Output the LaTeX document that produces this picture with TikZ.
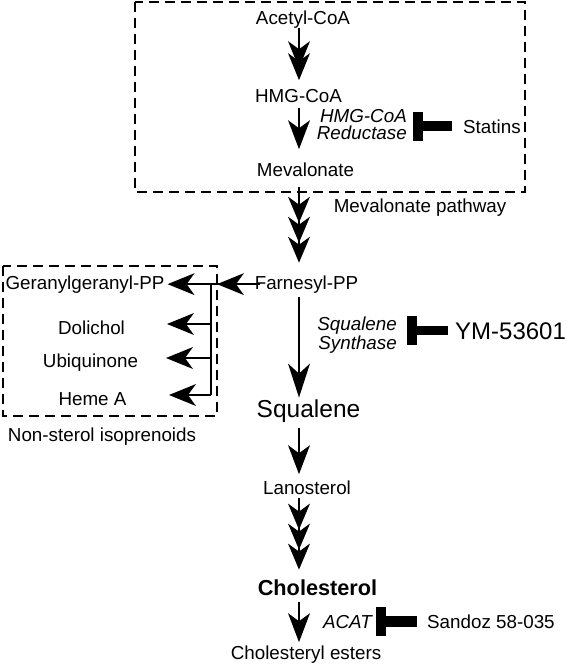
\documentclass[tikz,border=0pt]{standalone}
\usepackage{fontspec}
\setmainfont{Liberation Sans}
\usetikzlibrary{arrows.meta}
\tikzset{
  HeadA/.tip={Stealth[length=27pt,width=22pt,inset=8pt,line width=0pt]},
  HeadB/.tip={Stealth[length=29pt,width=22pt,inset=8pt,line width=0pt]},
  HeadC/.tip={Stealth[length=26pt,width=22pt,inset=8pt,line width=0pt]},
  HeadL/.tip={Stealth[length=34pt,width=22pt,inset=10pt,line width=0pt]},
  BarTip/.tip={Rectangle[length=10pt,width=29pt,line width=0pt]},
}
\begin{document}
\begin{tikzpicture}[x=1pt,y=-1pt,
  lbl/.style={inner sep=0pt,anchor=base,font=\fontsize{18.8}{22}\selectfont},
  biglbl/.style={lbl,font=\fontsize{24.5}{28}\selectfont},
  boldlbl/.style={lbl,font=\fontsize{21.7}{26}\selectfont\bfseries},
  enzlbl/.style={inner ysep=0pt,align=right},
  druglbl/.style={inner ysep=0pt,anchor=base west,font=\fontsize{18.8}{22}\selectfont},
  grp/.style={line width=1.4pt,dash pattern=on 10pt off 6pt},
  flow/.style={line width=2pt},
  one/.style={flow,-{HeadB}},
  brarr/.style={flow,-{HeadA}},
  longone/.style={flow,-{HeadL}},
  two/.style={flow,-{HeadA[sep=-15pt]HeadA}},
  three/.style={flow,-{HeadC[sep=-6pt]HeadC[sep=-6pt]HeadC}},
  inh/.style={line width=10pt,-{BarTip}},
]
\useasboundingbox (0,0) rectangle (566,664);

% group boxes
\draw[grp] (135,2) rectangle (525,192);
\draw[grp] (3,266) rectangle (217,416);

% axis
\coordinate (ax) at (299,0);

% main pathway
\node[lbl] (acetyl) at (303,24) {Acetyl-CoA};
\node[lbl] (hmg) at (298.5,102) {HMG-CoA};
\node[lbl] (mev) at (305.5,176) {Mevalonate};
\node[lbl] (mevpath) at (420,212) {Mevalonate pathway};
\node[lbl] (fpp) at (306.5,289) {Farnesyl-PP};
\node[biglbl] (squal) at (308.5,417) {Squalene};
\node[lbl] (lan) at (307,494) {Lanosterol};
\node[boldlbl] (chol) at (317.5,595) {Cholesterol};
\node[lbl] (est) at (306,659) {Cholesteryl esters};

% non-sterol isoprenoids
\node[lbl] (gg) at (85,289) {Geranylgeranyl-PP};
\node[lbl] (dol) at (91.5,334) {Dolichol};
\node[lbl] (ubi) at (90.5,367) {Ubiquinone};
\node[lbl] (heme) at (92.5,405) {Heme A};
\node[lbl] (nonsterol) at (102,441) {Non-sterol isoprenoids};

% enzymes and inhibitors
\node[enzlbl,anchor=east,inner xsep=6pt,font=\fontsize{18.8}{17}\selectfont\itshape] (hmgr) at (413,125) {HMG-CoA\\Reductase};
\node[druglbl,inner xsep=11pt] (statins) at (452,133) {Statins};
\node[enzlbl,anchor=east,inner xsep=10pt,font=\fontsize{18.8}{18.6}\selectfont\itshape] (sqs) at (407,335) {Squalene\\Synthase};
\node[druglbl,inner xsep=7pt,font=\fontsize{24}{28}\selectfont] (ym) at (448,339) {YM-53601};
\node[enzlbl,anchor=base east,inner xsep=4pt,font=\fontsize{18.8}{22}\selectfont\itshape] (acat) at (376,628) {ACAT};
\node[druglbl,inner xsep=10pt] (sandoz) at (417,628) {Sandoz 58-035};

% pathway arrows
\draw[two,shorten >=8.5pt] (ax |- acetyl.south) -- (ax |- hmg.north);
\draw[one,shorten <=5.7pt,shorten >=13pt] (ax |- hmg.south) -- (ax |- mev.north);
\draw[three,shorten <=10.7pt,shorten >=12.5pt] (ax |- mev.south) -- (ax |- fpp.north);
\draw[longone,shorten <=4pt,shorten >=1.5pt] (ax |- fpp.south) -- (ax |- squal.north);
\draw[one,shorten <=6pt,shorten >=6pt] (ax |- squal.south) -- (ax |- lan.north);
\draw[three,shorten <=3.7pt,shorten >=9.5pt] (ax |- lan.south) -- (ax |- chol.north);
\draw[one,shorten <=6.7pt,shorten >=3pt] (ax |- chol.south) -- (ax |- est.north);

% branch to non-sterol isoprenoids
\coordinate (jt) at (217,0);
\coordinate (jn) at (211,0);
\coordinate (b1) at (211,324);
\coordinate (b2) at (211,358);
\coordinate (b3) at (211,395);
\coordinate (t1) at (167,324);
\coordinate (t2) at (166,358);
\coordinate (t3) at (169,395);
\draw[brarr,shorten <=-5pt,shorten >=3pt] (fpp.west) -- (gg.east);
\draw[brarr,shorten <=-5pt] (fpp.west) -- (jt |- fpp.west);
\draw[flow] (jn |- fpp.west) -- (b3);
\draw[brarr] (b1) -- (t1);
\draw[brarr] (b2) -- (t2);
\draw[brarr] (b3) -- (t3);

% inhibitions
\draw[inh] (statins.west) -- (statins.west -| hmgr.east);
\draw[inh,line width=9.5pt] (ym.west) -- (ym.west -| sqs.east);
\draw[inh,line width=11pt] (sandoz.west) -- (sandoz.west -| acat.east);
\end{tikzpicture}
\end{document}
